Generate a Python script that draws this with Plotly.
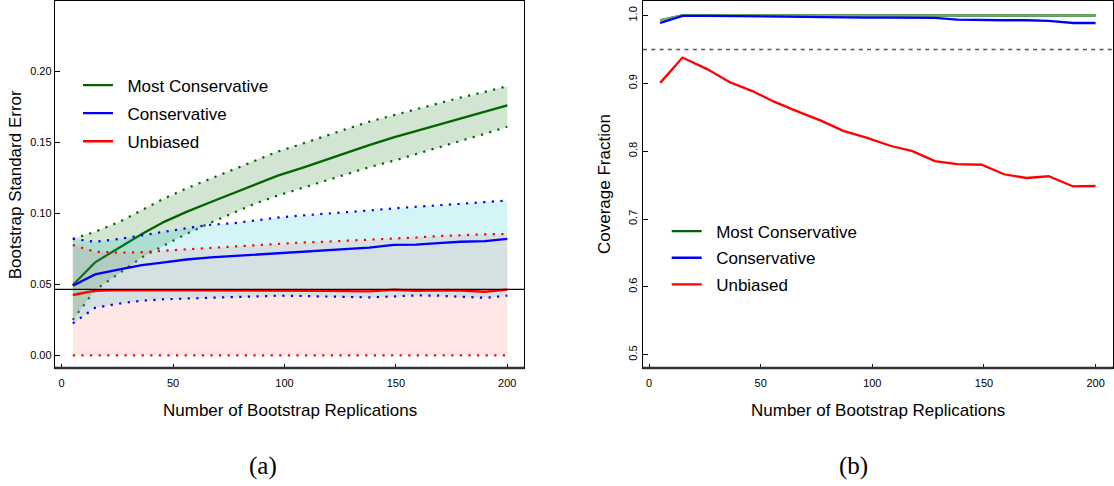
import plotly.graph_objects as go

# ---------------- data ----------------
reps = [5, 15, 26, 36, 46, 56, 67, 77, 87, 97, 108, 118, 128, 138, 149, 159, 169, 179, 190, 200]

# (a) bootstrap standard error
se_most_mean = [0.0495, 0.0655, 0.076, 0.0855, 0.094, 0.101, 0.108, 0.114, 0.1205, 0.1265,
                0.132, 0.1375, 0.1425, 0.148, 0.1535, 0.158, 0.1625, 0.167, 0.1715, 0.176]
se_most_upper = [0.082, 0.087, 0.094, 0.1025, 0.1105, 0.1175, 0.1245, 0.131, 0.1375, 0.1435,
                 0.149, 0.1545, 0.1595, 0.1645, 0.169, 0.1735, 0.1775, 0.1815, 0.1855, 0.1895]
se_most_lower = [0.025, 0.046, 0.058, 0.069, 0.0775, 0.0855, 0.0935, 0.1005, 0.107, 0.1125,
                 0.118, 0.1225, 0.1275, 0.1325, 0.137, 0.1415, 0.146, 0.151, 0.156, 0.161]

se_cons_mean = [0.049, 0.057, 0.0605, 0.0635, 0.0655, 0.0675, 0.069, 0.070, 0.071, 0.072,
                0.073, 0.074, 0.075, 0.0758, 0.0778, 0.078, 0.079, 0.080, 0.0805, 0.082]
se_cons_upper = [0.082, 0.080, 0.082, 0.0847, 0.087, 0.0895, 0.092, 0.093, 0.095, 0.097,
                 0.0985, 0.0995, 0.1005, 0.102, 0.1035, 0.1045, 0.1055, 0.107, 0.108, 0.109]
se_cons_lower = [0.0225, 0.0335, 0.0365, 0.0385, 0.0395, 0.040, 0.0405, 0.041, 0.0413, 0.042,
                 0.0418, 0.0415, 0.041, 0.0408, 0.0415, 0.0422, 0.042, 0.0413, 0.0405, 0.042]

se_unb_mean = [0.0425, 0.0455, 0.046, 0.046, 0.046, 0.046, 0.046, 0.046, 0.0458, 0.046,
               0.0455, 0.0455, 0.0452, 0.045, 0.0462, 0.0455, 0.0458, 0.0456, 0.0448, 0.0463]
se_unb_upper = [0.0777, 0.073, 0.0723, 0.0727, 0.0737, 0.0747, 0.0757, 0.0767, 0.0777, 0.0787,
                0.0795, 0.080, 0.0807, 0.0813, 0.082, 0.083, 0.084, 0.0848, 0.0852, 0.0855]
se_unb_lower = [0.0] * 20

true_se = 0.0465

# (b) coverage fraction
cov_most = [0.993, 1.0, 1.0, 1.0, 1.0, 1.0, 1.0, 1.0, 1.0, 1.0,
            1.0, 1.0, 1.0, 1.0, 1.0, 1.0, 1.0, 1.0, 1.0, 1.0]
cov_cons = [0.989, 0.9995, 0.9995, 0.999, 0.999, 0.9985, 0.998, 0.9975, 0.997, 0.997,
            0.997, 0.997, 0.9965, 0.994, 0.993, 0.993, 0.993, 0.992, 0.989, 0.989]
cov_unb = [0.9007, 0.938, 0.921, 0.902, 0.889, 0.873, 0.858, 0.845, 0.830, 0.8205,
           0.808, 0.800, 0.7855, 0.781, 0.780, 0.766, 0.7605, 0.763, 0.748, 0.7487]
nominal = 0.95

names = ["Most Conservative", "Conservative", "Unbiased"]

# ---------------- style ----------------
GREEN = "rgb(0,100,0)"
LIGHT_GREEN = "rgb(112,165,112)"
BLUE = "rgb(0,0,255)"
RED = "rgb(255,0,0)"
DOT = "2.2px,6.4px"
FONT = "Liberation Sans, Arial, sans-serif"
PAD = "\u00a0\u00a0"

W, H = 1114, 486
xdomL = [55 / W, 524 / W]
xdomR = [643 / W, 1113 / W]
ydom = [(H - 368) / H, (H - 1) / H]

fig = go.Figure()


def band(x, lo, hi, color, xa, ya):
    fig.add_trace(go.Scatter(x=list(x) + list(x)[::-1], y=list(lo) + list(hi)[::-1],
                             fill="toself", fillcolor=color, mode="lines",
                             line=dict(width=0, color="rgba(0,0,0,0)"),
                             hoverinfo="skip", showlegend=False, xaxis=xa, yaxis=ya))


def dotted(x, y, color, xa, ya):
    fig.add_trace(go.Scatter(x=x, y=y, mode="lines", line=dict(color=color, width=2.2, dash=DOT),
                             showlegend=False, xaxis=xa, yaxis=ya))


def solid(x, y, color, name, legend, xa, ya, group, width=2.3, show=True):
    fig.add_trace(go.Scatter(x=x, y=y, mode="lines", line=dict(color=color, width=width),
                             name=PAD + name, legend=legend, legendgroup=legend + group,
                             showlegend=show, xaxis=xa, yaxis=ya))


# ---- panel (a) ----
band(reps, se_most_lower, se_most_upper, "rgba(0,110,0,0.18)", "x", "y")
dotted(reps, se_most_lower, GREEN, "x", "y")
dotted(reps, se_most_upper, GREEN, "x", "y")
solid(reps, se_most_mean, GREEN, names[0], "legend", "x", "y", "g")

band(reps, se_unb_lower, se_unb_upper, "rgba(255,60,40,0.12)", "x", "y")
band(reps, se_cons_lower, se_cons_upper, "rgba(0,190,205,0.17)", "x", "y")
dotted(reps, se_cons_lower, BLUE, "x", "y")
dotted(reps, se_cons_upper, BLUE, "x", "y")
solid(reps, se_cons_mean, BLUE, names[1], "legend", "x", "y", "b")

dotted(reps, se_unb_lower, RED, "x", "y")
dotted(reps, se_unb_upper, RED, "x", "y")
solid(reps, se_unb_mean, RED, names[2], "legend", "x", "y", "r")

# ---- panel (b) ----
# legend key in dark green, drawn line in the lighter green seen in the figure
solid(reps, cov_most, GREEN, names[0], "legend2", "x2", "y2", "g", width=2.3)
solid(reps, cov_most, LIGHT_GREEN, names[0], "legend2", "x2", "y2", "g", width=2.7, show=False)
solid(reps, cov_cons, BLUE, names[1], "legend2", "x2", "y2", "b")
solid(reps, cov_unb, RED, names[2], "legend2", "x2", "y2", "r")

# reference lines
fig.add_shape(type="line", xref="x domain", yref="y", x0=0, x1=1, y0=true_se, y1=true_se,
              line=dict(color="black", width=1.3), layer="above")
fig.add_shape(type="line", xref="x2 domain", yref="y2", x0=0, x1=1, y0=nominal, y1=nominal,
              line=dict(color="#555555", width=1.5, dash="4px,4.3px"), layer="above")
# thicker bottom frame lines
for xr, yr in (("x domain", "y domain"), ("x2 domain", "y2 domain")):
    fig.add_shape(type="line", xref=xr, yref=yr, x0=0, x1=1, y0=0, y1=0,
                  line=dict(color="#333333", width=2.6), layer="above")

axis_common = dict(showgrid=False, zeroline=False, showline=True, linecolor="black",
                   linewidth=1.4, mirror=True, ticks="inside", tickcolor="black",
                   tickwidth=1, tickfont=dict(size=11, family=FONT, color="black"))

fig.update_layout(
    width=W, height=H, template="none",
    margin=dict(l=0, r=0, t=0, b=0),
    paper_bgcolor="white", plot_bgcolor="white",
    font=dict(family=FONT, color="black"),
    xaxis=dict(domain=xdomL, anchor="y", range=[-3.0, 207.5],
               tickvals=[0, 50, 100, 150, 200], ticklen=4, ticklabelstandoff=5, **axis_common),
    yaxis=dict(domain=ydom, anchor="x", range=[-0.0089, 0.2495],
               tickvals=[0, 0.05, 0.10, 0.15, 0.20], tickformat=".2f", ticklen=5, **axis_common),
    xaxis2=dict(domain=xdomR, anchor="y2", range=[-2.7, 207.8],
                tickvals=[0, 50, 100, 150, 200], ticklen=4, ticklabelstandoff=5, **axis_common),
    yaxis2=dict(domain=ydom, anchor="x2", range=[0.4804, 1.0214],
                tickvals=[0.5, 0.6, 0.7, 0.8, 0.9, 1.0], tickformat=".1f", ticklen=5,
                tickangle=-90, **axis_common),
    legend=dict(x=78 / W, y=(H - 67.5) / H, xanchor="left", yanchor="top",
                bgcolor="rgba(0,0,0,0)", borderwidth=0, traceorder="grouped",
                tracegroupgap=3, font=dict(size=17, family=FONT, color="black")),
    legend2=dict(x=666.7 / W, y=(H - 213.5) / H, xanchor="left", yanchor="top",
                 bgcolor="rgba(0,0,0,0)", borderwidth=0, traceorder="grouped",
                 tracegroupgap=1.6, font=dict(size=17, family=FONT, color="black")),
    showlegend=True,
)

ann_font = dict(size=17, family=FONT, color="black")
fig.add_annotation(text="Bootstrap Standard Error", xref="paper", yref="y domain",
                   x=15.8 / W, y=0.5, textangle=-90, showarrow=False, font=ann_font,
                   xanchor="center", yanchor="middle")
fig.add_annotation(text="Coverage Fraction", xref="paper", yref="y2 domain",
                   x=604.5 / W, y=0.5, textangle=-90, showarrow=False, font=ann_font,
                   xanchor="center", yanchor="middle")
fig.add_annotation(text="Number of Bootstrap Replications", xref="x domain", yref="paper",
                   x=0.5, y=(H - 410) / H, showarrow=False, font=ann_font,
                   xanchor="center", yanchor="middle")
fig.add_annotation(text="Number of Bootstrap Replications", xref="x2 domain", yref="paper",
                   x=0.5, y=(H - 410) / H, showarrow=False, font=ann_font,
                   xanchor="center", yanchor="middle")
cap_font = dict(size=25, family="Liberation Serif, DejaVu Serif, serif", color="black")
fig.add_annotation(text="(a)", xref="paper", yref="paper", x=263 / W, y=(H - 466) / H,
                   showarrow=False, font=cap_font, xanchor="center", yanchor="middle")
fig.add_annotation(text="(b)", xref="paper", yref="paper", x=853 / W, y=(H - 466) / H,
                   showarrow=False, font=cap_font, xanchor="center", yanchor="middle")

fig.write_html("out.html")
